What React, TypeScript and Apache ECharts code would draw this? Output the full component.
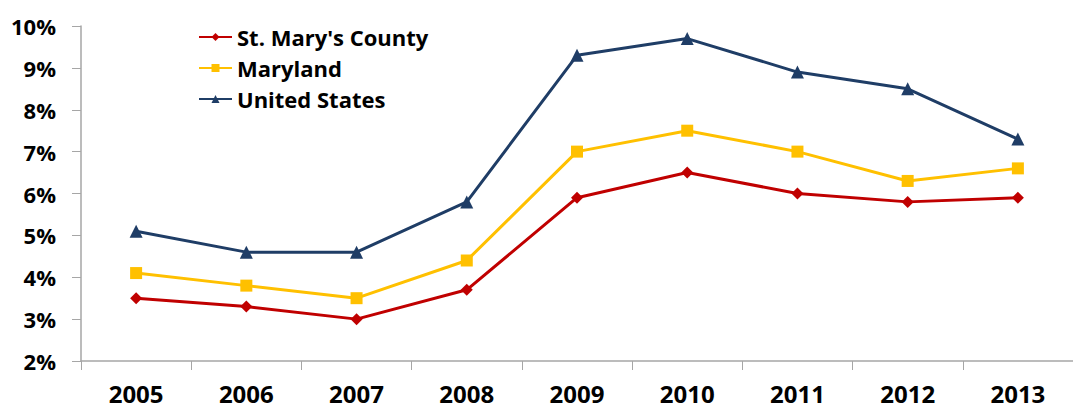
import React, { useEffect, useRef } from "react";
import * as echarts from "echarts";

const years = ["2005", "2006", "2007", "2008", "2009", "2010", "2011", "2012", "2013"];
const stMarys = [3.5, 3.3, 3.0, 3.7, 5.9, 6.5, 6.0, 5.8, 5.9];
const maryland = [4.1, 3.8, 3.5, 4.4, 7.0, 7.5, 7.0, 6.3, 6.6];
const unitedStates = [5.1, 4.6, 4.6, 5.8, 9.3, 9.7, 8.9, 8.5, 7.3];

const FONT = "'Open Sans', 'Noto Sans', sans-serif";

export default function App() {
  const ref = useRef<HTMLDivElement>(null);
  useEffect(() => {
    if (!ref.current) return;
    const chart = echarts.init(ref.current, null, { renderer: "svg" });
    const lineSeries = (name: string, data: number[], color: string, symbol: string, size: number) => ({
      name,
      type: "line",
      data,
      symbol,
      symbolSize: size,
      showAllSymbol: true,
      lineStyle: { color, width: 3 },
      itemStyle: { color },
    });
    chart.setOption({
      animation: false,
      textStyle: { fontFamily: FONT },
      grid: { left: 81, right: -6, top: 26, bottom: 49 },
      legend: {
        orient: "vertical",
        left: 198,
        top: 26,
        padding: 0,
        itemWidth: 33,
        itemHeight: 10,
        itemGap: 9,
        textStyle: { fontSize: 22, fontWeight: "bold", color: "#000", fontFamily: FONT },
        data: ["St. Mary's County", "Maryland", "United States"],
      },
      xAxis: {
        type: "category",
        data: years,
        boundaryGap: true,
        axisLine: { lineStyle: { color: "#A6A6A6", width: 1.5 } },
        axisTick: { show: true, length: 9, lineStyle: { color: "#A6A6A6" } },
        axisLabel: { fontSize: 24, fontWeight: "bold", color: "#000", margin: 20, fontFamily: FONT },
        splitLine: { show: false },
      },
      yAxis: {
        type: "value",
        min: 2,
        max: 10,
        interval: 1,
        axisLine: { show: true, lineStyle: { color: "#A6A6A6", width: 1.5 } },
        axisTick: { show: true, length: 9, lineStyle: { color: "#A6A6A6" } },
        axisLabel: {
          fontSize: 22,
          fontWeight: "bold",
          color: "#000",
          margin: 25,
          fontFamily: FONT,
          formatter: (v: number) => `${v}%`,
        },
        splitLine: { show: false },
      },
      series: [
        lineSeries("St. Mary's County", stMarys, "#C00000", "diamond", 12),
        lineSeries("Maryland", maryland, "#FFC000", "rect", 12),
        lineSeries("United States", unitedStates, "#1F3D66", "triangle", 13),
      ],
    });
    return () => chart.dispose();
  }, []);
  return (
    <div
      ref={ref}
      style={{ position: "absolute", left: 0, top: 0, width: 1073, height: 410, background: "#fff" }}
    />
  );
}
